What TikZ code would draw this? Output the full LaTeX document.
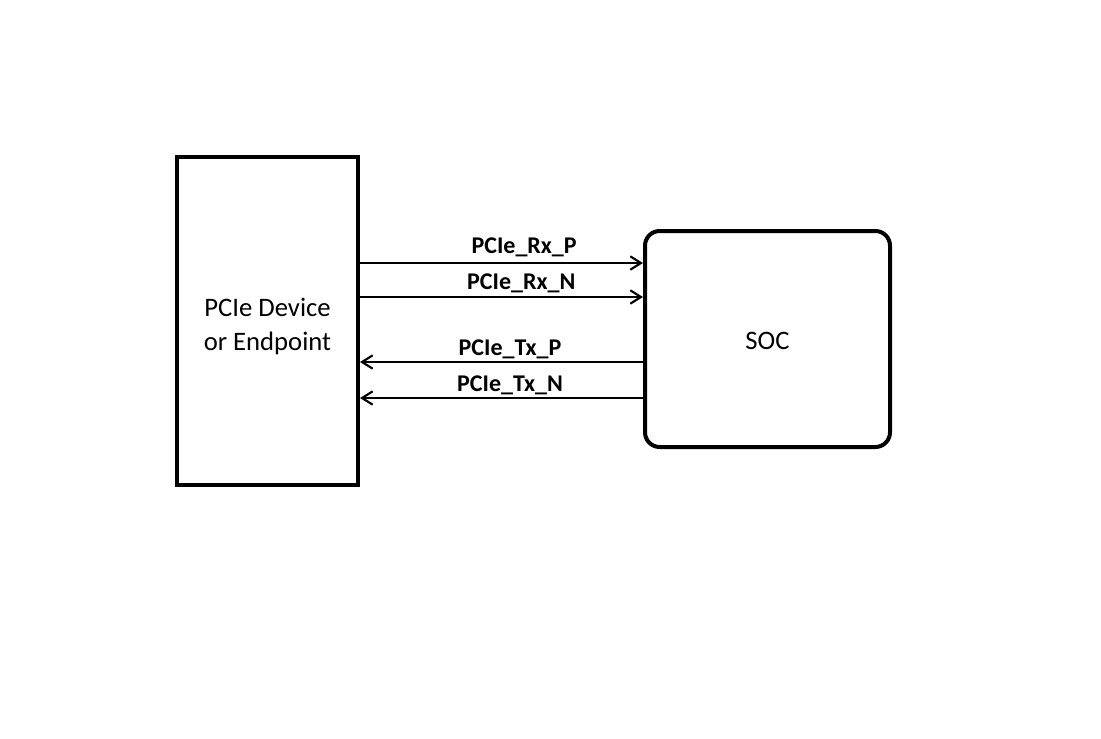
\documentclass[tikz,border=0pt]{standalone}
\usepackage{fontspec}
\setmainfont{Carlito}
\usetikzlibrary{arrows.meta}
\begin{document}
\begin{tikzpicture}[x=0.75pt,y=-0.75pt,
    box/.style={draw,line width=3pt,minimum width=#1},
    boxtext/.style={font=\fontsize{20}{25.5}\selectfont,align=center},
    sig/.style={line width=2pt,-{Straight Barb[length=8pt,width=10pt,line width=1.6pt]}},
    lbl/.style={font=\fontsize{18}{20}\selectfont\bfseries,anchor=base,inner sep=0pt,yshift=#1}]
    \useasboundingbox (0,0) rectangle (1101,739);
    \node[box=181*0.75pt,minimum height=328*0.75pt,
        label={[boxtext,yshift=-4pt]center:PCIe Device\\or Endpoint}] (dev) at (267.5,321) {};
    \node[box=245*0.75pt,minimum height=216*0.75pt,rounded corners=11pt,
        label={[boxtext,yshift=-1.5pt]center:SOC}] (soc) at (767.5,339) {};
    \draw[sig] (dev.east |- 0,263) -- node[lbl=7.5pt,pos=0.58] {PCIe\_Rx\_P} (soc.west |- 0,263);
    \draw[sig] (dev.east |- 0,297) -- node[lbl=6pt,pos=0.57] {PCIe\_Rx\_N} (soc.west |- 0,297);
    \draw[sig] (soc.west |- 0,362) -- node[lbl=5pt,pos=0.47] {PCIe\_Tx\_P} (dev.east |- 0,362);
    \draw[sig] (soc.west |- 0,398) -- node[lbl=5pt,pos=0.47] {PCIe\_Tx\_N} (dev.east |- 0,398);
\end{tikzpicture}
\end{document}
